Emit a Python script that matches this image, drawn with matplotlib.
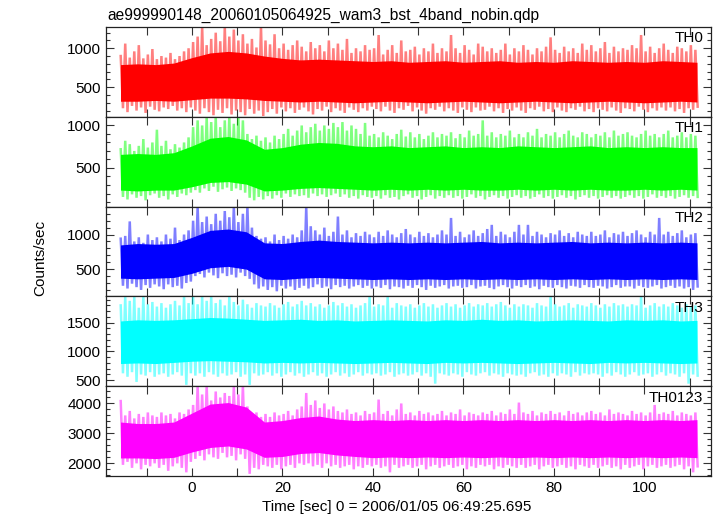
import numpy as np
import matplotlib
matplotlib.use("Agg")
import matplotlib.pyplot as plt
from matplotlib.ticker import MultipleLocator

plt.rcParams['font.family'] = ['Liberation Sans', 'DejaVu Sans']

title = "ae999990148_20060105064925_wam3_bst_4band_nobin.qdp"
xlabel = "Time [sec] 0 = 2006/01/05 06:49:25.695"
ylabel = "Counts/sec"
bands = ["TH0", "TH1", "TH2", "TH3", "TH0123"]
colors = ["#ff0000", "#00ff00", "#0000ff", "#00ffff", "#ff00ff"]

# 1-s bin centres (sec) for the spike extremes (max / min in each second)
t_bins = np.arange(-15.5, 112, 1.0)
# coarse time grid for the dense core of each light curve
core_t = [-15.8, -12, -8, -4, 0, 4, 8, 12, 16, 20, 24, 28, 32, 36, 40, 44, 48,
          52, 56, 60, 64, 68, 72, 76, 80, 84, 88, 92, 96, 100, 104, 108, 111.6]

th0_hi = [900, 1060, 880, 960, 1040, 870, 920, 990,
          860, 900, 880, 940, 860, 900, 960, 1000,
          1080, 1150, 1280, 1040, 1120, 1200, 1090, 1280,
          1150, 1240, 1100, 1180, 1060, 1120, 1010, 1280,
          1100, 1050, 1180, 1000, 1060, 980, 1040, 1100,
          1020, 960, 1080, 1000, 1040, 960, 1100, 1000,
          1060, 980, 1120, 940, 1000, 960, 1040, 980,
          1000, 1170, 920, 980, 1040, 940, 1100, 960,
          980, 1020, 920, 1000, 960, 1060, 940, 1000,
          960, 1170, 1000, 940, 1040, 980, 920, 1060,
          1020, 960, 1000, 940, 980, 1060, 920, 1000,
          960, 1040, 980, 920, 1000, 960, 1020, 1140,
          980, 940, 1020, 960, 1000, 940, 1060, 980,
          1040, 960, 1000, 1080, 940, 1020, 960, 1000,
          980, 1040, 1000, 1170, 960, 1020, 940, 1000,
          1060, 980, 940, 1020, 1000, 960, 1040, 980]
th0_lo = [230, 180, 260, 200, 240, 170, 250, 210,
          190, 240, 220, 260, 200, 230, 180, 240,
          200, 160, 230, 180, 140, 210, 170, 230,
          150, 200, 180, 140, 220, 160, 200, 130,
          180, 220, 160, 240, 190, 230, 170, 210,
          240, 190, 150, 220, 200, 250, 180, 230,
          200, 170, 240, 210, 180, 230, 200, 250,
          220, 190, 250, 200, 170, 230, 210, 260,
          190, 240, 200, 160, 230, 210, 250, 190,
          230, 200, 170, 240, 210, 180, 240, 200,
          210, 250, 190, 230, 170, 220, 200, 240,
          200, 170, 230, 210, 250, 190, 220, 180,
          240, 200, 180, 230, 210, 250, 190, 220,
          180, 230, 210, 190, 240, 200, 170, 230,
          220, 190, 250, 210, 180, 230, 200, 240,
          200, 240, 190, 220, 170, 230, 210, 250]
th0_core_hi = [790, 800, 790, 810, 880, 940, 960, 940, 900, 870, 850, 860, 850, 840, 830, 840, 820,
               830, 840, 820, 830, 840, 820, 830, 820, 840, 830, 820, 830, 820, 840, 830, 820]
th0_core_lo = [320, 320, 330, 320, 340, 360, 360, 350, 330, 320, 310, 320, 310, 300, 310, 320, 310,
               300, 310, 320, 310, 300, 310, 320, 310, 300, 310, 320, 310, 300, 310, 320, 310]

th1_hi = [720, 820, 780, 700, 760, 840, 740, 800,
          950, 760, 820, 720, 780, 740, 800, 860,
          980, 1060, 1000, 1100, 1040, 1100, 980, 1060,
          1100, 1020, 1100, 1060, 900, 840, 880, 820,
          860, 800, 880, 840, 900, 960, 880, 940,
          1000, 920, 980, 1020, 940, 1000, 960, 1030,
          980, 1040, 940, 1000, 960, 900, 1030, 880,
          900, 860, 920, 880, 840, 900, 950, 870,
          920, 860, 900, 840, 880, 920, 860, 900,
          880, 920, 850, 900, 860, 940, 880, 900,
          1060, 880, 920, 860, 900, 880, 940, 860,
          900, 860, 920, 880, 960, 860, 900, 880,
          920, 860, 900, 940, 880, 860, 920, 900,
          860, 900, 880, 920, 860, 940, 880, 900,
          920, 880, 860, 900, 940, 880, 900, 860,
          900, 940, 860, 880, 920, 860, 900, 880]
th1_lo = [160, 130, 190, 150, 170, 120, 180, 200,
          150, 170, 130, 190, 160, 200, 180, 210,
          240, 210, 260, 230, 280, 220, 250, 270,
          230, 260, 240, 210, 150, 120, 160, 130,
          170, 140, 180, 150, 200, 160, 190, 170,
          180, 150, 200, 170, 190, 160, 180, 200,
          160, 190, 150, 170, 140, 180, 160, 150,
          170, 140, 180, 150, 160, 130, 170, 190,
          150, 170, 130, 160, 180, 140, 170, 150,
          180, 150, 170, 140, 160, 190, 150, 170,
          130, 160, 180, 150, 170, 140, 160, 180,
          150, 170, 140, 160, 190, 150, 170, 140,
          160, 180, 150, 170, 130, 160, 180, 150,
          170, 140, 160, 180, 150, 170, 140, 160,
          180, 150, 170, 140, 160, 190, 150, 170,
          150, 170, 140, 160, 180, 150, 170, 160]
th1_core_hi = [660, 670, 660, 680, 760, 850, 870, 830, 720, 740, 780, 800, 790, 760, 750, 760, 740,
               750, 760, 740, 750, 740, 760, 750, 740, 750, 760, 740, 750, 740, 750, 740, 740]
th1_core_lo = [240, 230, 240, 240, 280, 330, 340, 310, 230, 240, 260, 270, 260, 250, 240, 250, 240,
               250, 240, 250, 240, 240, 250, 240, 250, 240, 250, 240, 240, 250, 240, 250, 240]

th2_hi = [940, 980, 1190, 900, 960, 880, 1000, 920,
          960, 900, 1000, 940, 1100, 920, 1000, 1060,
          1200, 1400, 1180, 1260, 1150, 1300, 1200, 1340,
          1250, 1400, 1180, 1300, 1400, 1100, 980, 940,
          960, 900, 1000, 920, 980, 940, 1000, 960,
          1060, 1400, 1120, 1060, 1000, 1100, 980, 1040,
          1260, 1000, 1060, 960, 1020, 980, 1040, 1000,
          960, 1040, 980, 1060, 1000, 960, 1020, 1080,
          1000, 960, 1040, 980, 1020, 960, 1000, 1060,
          1000, 1240, 980, 1040, 960, 1000, 1060, 980,
          1020, 1080, 1140, 980, 1040, 1000, 960, 1040,
          1140, 1000, 1140, 980, 1040, 1000, 960, 1020,
          1000, 1060, 980, 1020, 960, 1040, 1000, 980,
          1040, 980, 1000, 1060, 960, 1020, 1000, 1040,
          980, 1020, 1060, 1000, 960, 1040, 1000, 1240,
          1000, 1040, 980, 1020, 1060, 960, 1000, 1020]
th2_lo = [260, 220, 290, 240, 200, 270, 230, 280,
          250, 210, 280, 240, 260, 220, 300, 320,
          400, 430, 380, 450, 410, 370, 440, 400,
          420, 380, 450, 400, 360, 280, 220, 250,
          200, 240, 180, 260, 220, 250, 200, 230,
          260, 220, 240, 280, 230, 250, 210, 270,
          240, 260, 220, 250, 270, 230, 260, 220,
          250, 230, 270, 210, 250, 240, 220, 260,
          230, 270, 240, 200, 260, 230, 250, 270,
          220, 250, 260, 230, 240, 270, 220, 250,
          260, 230, 210, 250, 270, 240, 220, 260,
          240, 270, 230, 250, 210, 260, 240, 230,
          270, 240, 220, 260, 250, 230, 270, 240,
          230, 260, 250, 220, 240, 270, 230, 250,
          250, 220, 260, 240, 230, 250, 270, 220,
          240, 260, 230, 250, 220, 240, 200, 250]
th2_core_hi = [850, 870, 860, 870, 960, 1060, 1080, 1040, 880, 870, 900, 920, 900, 890, 880, 890, 880,
               890, 880, 890, 900, 880, 890, 880, 890, 900, 880, 890, 880, 890, 880, 890, 880]
th2_core_lo = [370, 360, 370, 380, 440, 520, 540, 500, 360, 350, 370, 380, 370, 360, 350, 360, 350,
               360, 350, 360, 350, 360, 350, 360, 350, 360, 350, 360, 350, 360, 350, 360, 350]

th3_hi = [1800, 1960, 1880, 1960, 1760, 1960, 1820, 1860,
          1780, 1840, 1760, 1820, 1880, 1800, 1960, 1840,
          1960, 1820, 1960, 1880, 1960, 1840, 1900, 1800,
          1960, 1860, 1800, 1900, 1820, 1760, 1840, 1800,
          1780, 1840, 1800, 1760, 1820, 1860, 1780, 1820,
          1880, 1800, 1840, 1780, 1820, 1760, 1800, 1860,
          1800, 1840, 1780, 1820, 1760, 1800, 1840, 1960,
          1780, 1820, 1800, 1960, 1760, 1840, 1800, 1780,
          1820, 1760, 1800, 1840, 1780, 1820, 1760, 1800,
          1840, 1780, 1820, 1760, 1800, 1840, 1780, 1820,
          1800, 1840, 1780, 1820, 1860, 1800, 1760, 1820,
          1780, 1820, 1800, 1760, 1840, 1800, 1780, 1960,
          1820, 1780, 1800, 1840, 1760, 1820, 1800, 1780,
          1840, 1800, 1760, 1820, 1780, 1840, 1800, 1820,
          1780, 1820, 1800, 1960, 1760, 1800, 1840, 1780,
          1820, 1780, 1840, 1800, 1760, 1820, 1780, 1800]
th3_lo = [620, 560, 640, 470, 600, 580, 640, 560,
          600, 620, 560, 600, 640, 580, 420, 620,
          580, 620, 560, 640, 600, 560, 620, 580,
          600, 640, 560, 600, 420, 620, 580, 600,
          640, 580, 620, 560, 600, 640, 580, 620,
          560, 600, 640, 580, 620, 560, 600, 640,
          580, 620, 560, 600, 640, 580, 620, 600,
          620, 580, 600, 640, 560, 600, 620, 580,
          600, 640, 580, 620, 560, 440, 620, 600,
          580, 620, 600, 560, 640, 600, 580, 620,
          640, 580, 620, 600, 560, 620, 600, 580,
          600, 560, 620, 640, 580, 600, 560, 620,
          580, 620, 600, 560, 640, 580, 620, 600,
          620, 600, 560, 620, 580, 640, 600, 560,
          600, 640, 580, 600, 620, 560, 600, 640,
          580, 620, 600, 560, 620, 440, 600, 580]
th3_core_hi = [1530, 1550, 1540, 1550, 1570, 1590, 1580, 1560, 1540, 1550, 1560, 1540, 1550, 1530,
               1540, 1550, 1540, 1530, 1550, 1540, 1560, 1540, 1550, 1530, 1540, 1550, 1540, 1530,
               1550, 1540, 1550, 1530, 1540]
th3_core_lo = [790, 800, 790, 810, 830, 840, 830, 820, 800, 810, 800, 810, 800, 790, 800, 810, 800,
               790, 810, 800, 810, 800, 790, 800, 810, 800, 790, 810, 800, 810, 800, 790, 800]

th0123_hi = [4080, 3600, 3750, 3500, 3650, 3550, 3700, 3600,
             3550, 3700, 3600, 3650, 3500, 3700, 3650, 3800,
             3950, 4600, 4300, 4600, 4100, 4400, 4200, 4350,
             4250, 4600, 4300, 4600, 3900, 3600, 3700, 3550,
             3650, 3550, 3700, 3600, 3650, 3750, 3600, 3800,
             3900, 4350, 3950, 4100, 3850, 4000, 3800, 3900,
             3750, 3700, 3800, 3650, 3700, 3600, 3750, 3650,
             3700, 4130, 3650, 3750, 3600, 3800, 4000, 3650,
             3700, 3600, 3750, 3650, 3700, 3600, 3650, 3750,
             3600, 3700, 3650, 3800, 3600, 3700, 3650, 3600,
             3700, 3650, 3750, 3600, 3700, 3650, 3800, 3650,
             4030, 3700, 3650, 3750, 3600, 3700, 3650, 3750,
             3650, 3700, 3600, 3750, 3650, 3700, 3600, 3700,
             3750, 3650, 3700, 3600, 3800, 3650, 3700, 3650,
             3600, 3750, 3650, 3700, 3600, 3700, 3950, 3650,
             3700, 3650, 3750, 3600, 3700, 3650, 3600, 3700]
th0123_lo = [1950, 2050, 1850, 2000, 1800, 1950, 1900, 2000,
             1850, 1950, 1750, 1900, 2000, 1850, 1700, 2050,
             2150, 2250, 2100, 2300, 2200, 2150, 2350, 2200,
             2250, 2100, 2300, 2150, 1650, 1850, 1800, 1950,
             1900, 1850, 1950, 1800, 1900, 1950, 1850, 2000,
             1950, 2000, 1900, 1950, 1850, 2000, 1900, 1950,
             1850, 1900, 1950, 1800, 1900, 1850, 1950, 1900,
             1950, 1850, 1900, 1700, 1950, 1850, 1900, 1950,
             1850, 1900, 1950, 1800, 1900, 1950, 1850, 1900,
             1950, 1850, 1900, 1950, 1800, 1900, 1850, 1950,
             1900, 1950, 1800, 1900, 1850, 1950, 1900, 1850,
             1950, 1850, 1900, 1950, 1800, 1900, 1950, 1850,
             1900, 1950, 1850, 1900, 1800, 1950, 1900, 1850,
             1950, 1850, 1900, 1950, 1850, 1900, 1800, 1950,
             1850, 1900, 1950, 1800, 1900, 1950, 1850, 1900,
             1950, 1850, 1900, 1950, 1800, 1900, 1700, 1900]
th0123_core_hi = [3380, 3330, 3330, 3380, 3680, 3980, 4030, 3880, 3380, 3430, 3530, 3580, 3480,
                  3430, 3460, 3430, 3460, 3430, 3460, 3430, 3460, 3430, 3460, 3430, 3460, 3430,
                  3460, 3430, 3460, 3430, 3460, 3430, 3460]
th0123_core_lo = [2180, 2180, 2160, 2200, 2380, 2530, 2580, 2480, 2200, 2230, 2330, 2360, 2280,
                  2230, 2190, 2210, 2190, 2210, 2190, 2210, 2190, 2210, 2190, 2210, 2190, 2210,
                  2190, 2210, 2190, 2210, 2190, 2210, 2190]

his = [th0_hi, th1_hi, th2_hi, th3_hi, th0123_hi]
los = [th0_lo, th1_lo, th2_lo, th3_lo, th0123_lo]
core_his = [th0_core_hi, th1_core_hi, th2_core_hi, th3_core_hi, th0123_core_hi]
core_los = [th0_core_lo, th1_core_lo, th2_core_lo, th3_core_lo, th0123_core_lo]

ylims = [(120, 1273), (46, 1102), (106, 1404), (396, 1957), (1577, 4577)]
ymajor = [500, 500, 500, 500, 1000]
yminor = [100, 100, 100, 100, 200]

W, H = 717, 516
fig = plt.figure(figsize=(W / 100, H / 100), dpi=100)
left, right, top, bottom = 106 / W, 711 / W, 1 - 27 / H, 1 - 476 / H
gs = fig.add_gridspec(5, 1, left=left, right=right, top=top, bottom=bottom, hspace=0)

for i in range(5):
    ax = fig.add_subplot(gs[i])
    c = colors[i]
    ax.fill_between(core_t, core_los[i], core_his[i], color=c, lw=0, zorder=2)
    n = len(t_bins)
    ts = np.empty(2 * n)
    vs = np.empty(2 * n)
    ts[0::2] = t_bins - 0.25
    ts[1::2] = t_bins + 0.25
    vs[0::2] = his[i][:n]
    vs[1::2] = los[i][:n]
    ax.plot(ts, vs, color=c, lw=1.8, alpha=0.5, zorder=3, solid_joinstyle='miter')
    ax.set_xlim(-19, 114.7)
    ax.set_ylim(*ylims[i])
    ax.xaxis.set_major_locator(MultipleLocator(20))
    ax.xaxis.set_minor_locator(MultipleLocator(10))
    ax.yaxis.set_major_locator(MultipleLocator(ymajor[i]))
    ax.yaxis.set_minor_locator(MultipleLocator(yminor[i]))
    ax.tick_params(which='both', direction='in', top=True, right=True,
                   colors='#333333', labelcolor='black', labelsize=11, width=0.8)
    ax.tick_params(which='major', length=6)
    ax.tick_params(which='minor', length=3)
    ax.tick_params(axis='x', which='minor', length=6)
    for s in ax.spines.values():
        s.set_linewidth(0.9)
        s.set_color('#222222')
        s.set_zorder(4)
    if i < 4:
        ax.tick_params(labelbottom=False)
    ax.text(0.987, 0.95, bands[i], transform=ax.transAxes, ha='right', va='top',
            fontsize=11, zorder=5)

fig.text(107 / W, 1 - 15 / H, title, ha='left', va='center', fontsize=11.2)
fig.text(397 / W, 1 - 507 / H, xlabel, ha='center', va='center', fontsize=11)
fig.text(40 / W, 1 - 258 / H, ylabel, ha='center', va='center', rotation=90, fontsize=11)

fig.savefig("out.png", dpi=100)
